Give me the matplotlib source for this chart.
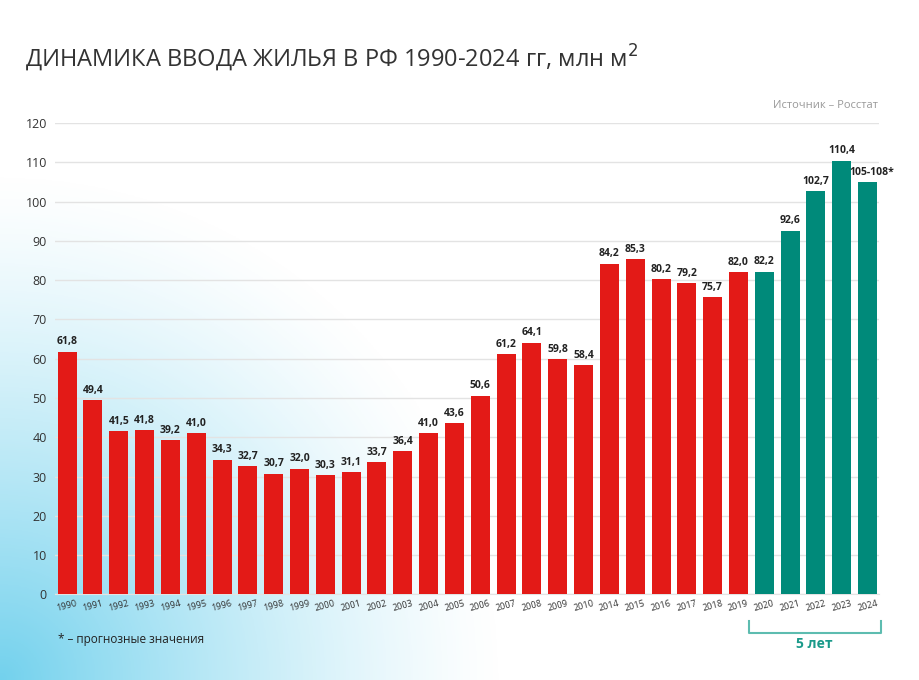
import numpy as np
from matplotlib import pyplot as plt

plt.rcParams['font.family'] = ['Open Sans', 'DejaVu Sans']

years = ['1990', '1991', '1992', '1993', '1994', '1995', '1996', '1997', '1998', '1999',
         '2000', '2001', '2002', '2003', '2004', '2005', '2006', '2007', '2008', '2009',
         '2010', '2014', '2015', '2016', '2017', '2018', '2019',
         '2020', '2021', '2022', '2023', '2024']
values = [61.8, 49.4, 41.5, 41.8, 39.2, 41.0, 34.3, 32.7, 30.7, 32.0,
          30.3, 31.1, 33.7, 36.4, 41.0, 43.6, 50.6, 61.2, 64.1, 59.8,
          58.4, 84.2, 85.3, 80.2, 79.2, 75.7, 82.0,
          82.2, 92.6, 102.7, 110.4, 105.0]
labels = ['61,8', '49,4', '41,5', '41,8', '39,2', '41,0', '34,3', '32,7', '30,7', '32,0',
          '30,3', '31,1', '33,7', '36,4', '41,0', '43,6', '50,6', '61,2', '64,1', '59,8',
          '58,4', '84,2', '85,3', '80,2', '79,2', '75,7', '82,0',
          '82,2', '92,6', '102,7', '110,4', '105-108*']
n_green = 5

red = '#e31a17'
green = '#008a7a'
colors = [red] * (len(years) - n_green) + [green] * n_green

fig = plt.figure(figsize=(9.19, 6.8), dpi=100)

# фон с голубым градиентом в левом нижнем углу
bg = fig.add_axes([0, 0, 1, 1], zorder=-10)
xx, yy = np.meshgrid(np.linspace(0, 1, 300), np.linspace(0, 1, 300))
d = np.sqrt((xx / 0.55) ** 2 + (yy / 0.75) ** 2)
a = np.clip(1 - d, 0, 1) ** 1.3
img = np.ones((300, 300, 4))
img[..., 0] = 0.45
img[..., 1] = 0.82
img[..., 2] = 0.93
img[..., 3] = a
bg.imshow(img, origin='lower', extent=[0, 1, 0, 1], aspect='auto')
bg.set_xlim(0, 1)
bg.set_ylim(0, 1)
bg.axis('off')

ax = fig.add_axes([0.06, 0.126, 0.897, 0.693])
ax.patch.set_alpha(0)
x = np.arange(len(years))
ax.bar(x, values, width=0.735, color=colors, zorder=3)
for xi, v, lab in zip(x, values, labels):
    dx = 0.17 if lab.endswith('*') else 0
    ax.text(xi + dx, v + 1.1, lab, ha='center', va='bottom', fontsize=7.5,
            fontweight='bold', color='#222222', zorder=4)

ax.set_ylim(0, 120)
ax.set_xlim(-0.464, len(years) - 0.54)
ax.set_yticks(range(0, 121, 10))
ax.tick_params(axis='y', length=0, labelsize=9, labelcolor='#333333', pad=6)
ax.set_xticks(x)
ax.set_xticklabels(years, rotation=15, fontsize=6.5, color='#333333')
ax.tick_params(axis='x', length=0, pad=3)
ax.grid(axis='y', color='#e3e3e3', linewidth=1, zorder=0)
for s in ['top', 'right', 'left']:
    ax.spines[s].set_visible(False)
ax.spines['bottom'].set_color('#e3e3e3')

fig.text(0.027, 0.915, 'ДИНАМИКА ВВОДА ЖИЛЬЯ В РФ 1990-2024 гг, млн м$^2$',
         fontsize=17, color='#333333', va='center')
fig.text(0.955, 0.845, 'Источник – Росстат', fontsize=8, color='#999999', ha='right', va='center')
fig.text(0.063, 0.06, '* – прогнозные значения', fontsize=8.5, color='#222222', va='center')

# скобка "5 лет"
x0 = len(years) - n_green - 0.6
x1 = len(years) - 0.5
ax.plot([x0, x0, x1, x1], [-6.8, -9.8, -9.8, -6.8], color='#5dbcb0', lw=1.5,
        clip_on=False)
ax.text((x0 + x1) / 2, -12.7, '5 лет', ha='center', va='center', fontsize=10,
        fontweight='bold', color='#1a9a8a')

plt.savefig('out.png', dpi=100)
